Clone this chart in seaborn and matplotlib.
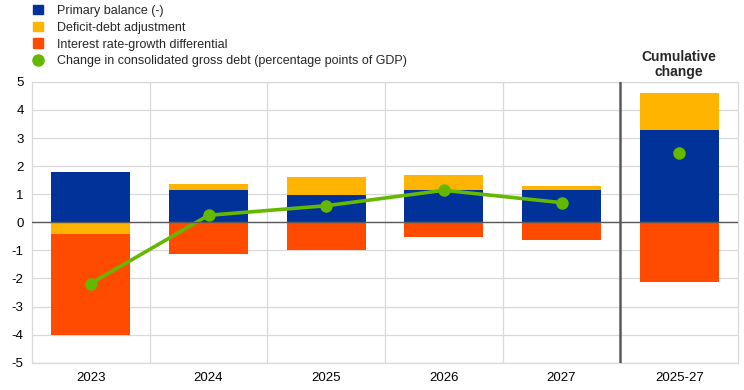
import numpy as np
import pandas as pd
import seaborn as sns
import matplotlib.pyplot as plt
from matplotlib.lines import Line2D
from matplotlib.patches import Patch

categories = ["2023", "2024", "2025", "2026", "2027", "2025-27"]
primary_balance = [1.80, 1.16, 0.98, 1.16, 1.16, 3.30]
deficit_debt_adj = [-0.41, 0.21, 0.64, 0.53, 0.14, 1.32]
interest_growth = [-3.59, -1.14, -1.00, -0.53, -0.62, -2.14]
debt_change = [-2.18, 0.25, 0.59, 1.14, 0.70, 2.48]

BLUE = "#003299"
YELLOW = "#FFB400"
ORANGE = "#FF4B00"
GREEN = "#65B800"

sns.set_theme(style="white")
plt.rcParams["font.family"] = ["Liberation Sans", "DejaVu Sans"]
plt.rcParams["font.size"] = 9
plt.rcParams["axes.unicode_minus"] = False

fig, ax = plt.subplots(figsize=(7.44, 3.90), dpi=100)
fig.subplots_adjust(left=0.043, right=0.992, top=0.79, bottom=0.07)

# stack positive and negative parts separately
pos_base = np.zeros(len(categories))
neg_base = np.zeros(len(categories))
for vals, col in [(primary_balance, BLUE), (deficit_debt_adj, YELLOW), (interest_growth, ORANGE)]:
    vals = np.array(vals)
    bottom = np.where(vals >= 0, pos_base, neg_base)
    df = pd.DataFrame({"cat": categories, "val": vals})
    sns.barplot(data=df, x="cat", y="val", color=col, saturation=1, width=0.67,
                bottom=bottom, ax=ax, errorbar=None, linewidth=0)
    pos_base = np.where(vals >= 0, pos_base + vals, pos_base)
    neg_base = np.where(vals < 0, neg_base + vals, neg_base)

line_df = pd.DataFrame({"x": np.arange(5), "y": debt_change[:5]})
sns.lineplot(data=line_df, x="x", y="y", color=GREEN, linewidth=2.6, marker="o",
             markersize=9, markeredgewidth=0, ax=ax)
ax.plot([5], [debt_change[5]], "o", color=GREEN, markersize=9, markeredgewidth=0)

ax.set_xlim(-0.5, 5.5)
ax.set_ylim(-5, 5)
ax.set_yticks(range(-5, 6))
ax.set_xlabel("")
ax.set_ylabel("")
ax.grid(axis="y", color="#d9d9d9", linewidth=0.9)
for b in np.arange(0.5, 4.0, 1.0):
    ax.axvline(b, color="#d9d9d9", linewidth=0.9, zorder=0)
ax.axvline(4.5, color="#595959", linewidth=1.8, zorder=3)
ax.axhline(0, color="#595959", linewidth=1.0, zorder=3)
ax.set_axisbelow(True)
for s in ax.spines.values():
    s.set_color("#d9d9d9")
    s.set_linewidth(0.9)
ax.tick_params(axis="both", length=0, labelsize=9.5, colors="black")
ax.tick_params(axis="x", pad=7)
ax.tick_params(axis="y", pad=6)

ax.text(5, 5.12, "Cumulative\nchange", ha="center", va="bottom", fontsize=10,
        fontweight="bold", linespacing=1.05)

handles = [
    Patch(color=BLUE, label="Primary balance (-)"),
    Patch(color=YELLOW, label="Deficit-debt adjustment"),
    Patch(color=ORANGE, label="Interest rate-growth differential"),
    Line2D([], [], color=GREEN, marker="o", linestyle="none", markersize=8,
           label="Change in consolidated gross debt (percentage points of GDP)"),
]
fig.legend(handles=handles, loc="upper left", bbox_to_anchor=(0.045, 0.988), frameon=False,
           fontsize=9, handlelength=0.8, handleheight=0.8, handletextpad=1.05,
           labelspacing=0.38, borderaxespad=0, borderpad=0)

fig.savefig("out.png", dpi=100)
